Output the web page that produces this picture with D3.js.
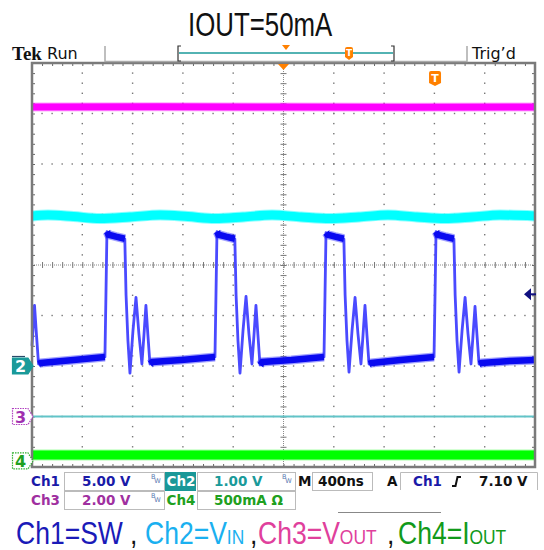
<!DOCTYPE html>
<html>
<head>
<meta charset="utf-8">
<script src="https://cdn.jsdelivr.net/npm/d3@7"></script>
<style>
body { margin: 0; background: #fff; }
svg { display: block; }
</style>
</head>
<body>
<div class="scope"></div>
<script>
// scope settings
const chNames = ["Ch1", "Ch2", "Ch3", "Ch4"];
const chPerDiv = [5, 1, 2, 0.5];          // V/div (A/div for Ch4)
const chGround = [-2, -2, -3, -3.88];     // ground marker, divs from centre
const timePerDiv = 400;                   // ns

// Ch1 = SW node (V)
const ch1Time = [0, 20, 36, 52, 70, 330, 580,
  588, 596, 608, 668, 738, 748, 763, 779, 803, 827, 850, 874, 890, 906, 922, 938, 958, 1188, 1455,
  1463, 1471, 1483, 1543, 1613, 1623, 1638, 1654, 1678, 1702, 1725, 1749, 1765, 1781, 1797, 1813, 1833, 2063, 2322,
  2330, 2338, 2350, 2410, 2480, 2490, 2505, 2521, 2545, 2569, 2592, 2616, 2632, 2648, 2664, 2680, 2700, 2930, 3197,
  3205, 3213, 3225, 3285, 3355, 3365, 3380, 3396, 3420, 3444, 3467, 3491, 3507, 3523, 3539, 3555, 3575, 3800, 4000];
const ch1Volt = [2.0, 6.0, 3.0, 0.2, 0.3, 0.6, 0.9,
  7.0, 13.3, 13.0, 12.8, 12.6, 7.0, 2.5, -0.7, 3.5, 6.8, 3.2, 0.2, 3.0, 6.0, 3.0, 0.2, 0.4, 0.6, 0.9,
  7.0, 13.3, 13.0, 12.8, 12.6, 7.0, 2.5, -0.7, 3.5, 6.9, 3.2, 0.2, 3.0, 6.0, 3.0, 0.1, 0.4, 0.6, 0.9,
  7.0, 13.2, 13.0, 12.8, 12.6, 7.0, 2.5, -0.6, 3.5, 6.8, 3.2, 0.2, 3.0, 6.0, 3.0, 0.2, 0.3, 0.6, 0.9,
  7.0, 13.3, 13.0, 12.8, 12.6, 7.0, 2.5, -0.6, 3.5, 6.8, 3.2, 0.2, 3.0, 5.9, 3.0, 0.2, 0.3, 0.5, 0.6];

// Ch2 = VIN (V)
const ch2Time = [0, 127, 330, 541, 780, 1018, 1240, 1455, 1680, 1909, 2140, 2370, 2600, 2831, 3060, 3284, 3500, 3722, 4000];
const ch2Volt = [2.97, 2.99, 2.96, 2.92, 2.95, 2.99, 2.96, 2.92, 2.95, 2.99, 2.95, 2.92, 2.95, 2.99, 2.95, 2.92, 2.95, 2.99, 2.97];

// Ch3 = VOUT (V)
const ch3Time = [0, 1000, 2000, 3000, 4000];
const ch3Volt = [12.26, 12.27, 12.26, 12.25, 12.26];

// Ch4 = IOUT (A)
const ch4Time = [0, 1000, 2000, 3000, 4000];
const ch4Amp = [0.06, 0.06, 0.06, 0.06, 0.06];

const trigTime = 3205, trigLevel = 7.10;

const legendMain = ["Ch1=SW", "Ch2=V", "Ch3=V", "Ch4=I"];
const legendSub = ["", "IN", "OUT", "OUT"];

const W = 544, H = 550;
const gx0 = 32, gx1 = 535, gy0 = 63, gy1 = 467;

const svg = d3.select(".scope").append("svg")
  .attr("width", W).attr("height", H);

const xDiv = d3.scaleLinear().domain([0, 10]).range([gx0, gx1]);
const yDiv = d3.scaleLinear().domain([-4, 4]).range([gy1, gy0]);
const xTime = d3.scaleLinear().domain([0, timePerDiv * 10]).range([gx0, gx1]);
const yCh = i => v => yDiv(chGround[i] + v / chPerDiv[i]);

// ---------- graticule ----------
const grat = svg.append("g");
const minor = d3.range(1, 50).map(k => k / 5);
const minorY = d3.range(1, 40).map(k => -4 + k / 5);

[1, 2, 3, 4, 6, 7, 8, 9].forEach(i => {
  grat.selectAll(null).data(minorY).enter().append("rect")
    .attr("x", xDiv(i) - 0.7).attr("y", d => yDiv(d) - 0.7)
    .attr("width", 1.4).attr("height", 1.4).attr("fill", "#777");
});
[-3, -2, -1, 1, 2, 3].forEach(j => {
  grat.selectAll(null).data(minor).enter().append("rect")
    .attr("x", d => xDiv(d) - 0.7).attr("y", yDiv(j) - 0.7)
    .attr("width", 1.4).attr("height", 1.4).attr("fill", "#777");
});

// centre cross
grat.append("line").attr("x1", gx0).attr("x2", gx1).attr("y1", yDiv(0)).attr("y2", yDiv(0))
  .attr("stroke", "#8a8a8a").attr("stroke-dasharray", "1,1");
grat.append("line").attr("x1", xDiv(5)).attr("x2", xDiv(5)).attr("y1", gy0).attr("y2", gy1)
  .attr("stroke", "#8a8a8a").attr("stroke-dasharray", "1,1");
grat.append("g").attr("transform", `translate(0,${yDiv(0) + 3})`)
  .call(d3.axisTop(xDiv).tickValues(minor).tickSize(6).tickFormat(""))
  .call(g => g.select(".domain").remove())
  .call(g => g.selectAll("line").attr("stroke", "#777"));
grat.append("g").attr("transform", `translate(${xDiv(5) + 3},0)`)
  .call(d3.axisLeft(yDiv).tickValues(minorY).tickSize(6).tickFormat(""))
  .call(g => g.select(".domain").remove())
  .call(g => g.selectAll("line").attr("stroke", "#777"));

// border ticks
grat.append("g").attr("transform", `translate(0,${gy0})`)
  .call(d3.axisBottom(xDiv).tickValues(minor).tickSize(3).tickFormat(""))
  .call(g => g.select(".domain").remove())
  .call(g => g.selectAll("line").attr("stroke", "#666"));
grat.append("g").attr("transform", `translate(0,${gy1})`)
  .call(d3.axisTop(xDiv).tickValues(minor).tickSize(3).tickFormat(""))
  .call(g => g.select(".domain").remove())
  .call(g => g.selectAll("line").attr("stroke", "#666"));
grat.append("g").attr("transform", `translate(${gx0},0)`)
  .call(d3.axisRight(yDiv).tickValues(minorY).tickSize(3).tickFormat(""))
  .call(g => g.select(".domain").remove())
  .call(g => g.selectAll("line").attr("stroke", "#666"));
grat.append("g").attr("transform", `translate(${gx1},0)`)
  .call(d3.axisLeft(yDiv).tickValues(minorY).tickSize(3).tickFormat(""))
  .call(g => g.select(".domain").remove())
  .call(g => g.selectAll("line").attr("stroke", "#666"));

// ---------- traces ----------
const traces = svg.append("g");
function band(times, vals, ch, color, width) {
  const pts = times.map((t, i) => [xTime(t), yCh(ch)(vals[i])]);
  const line = d3.line();
  traces.append("path").attr("d", line(pts)).attr("fill", "none")
    .attr("stroke", color).attr("stroke-width", width + 2).attr("opacity", 0.35);
  traces.append("path").attr("d", line(pts)).attr("fill", "none")
    .attr("stroke", color).attr("stroke-width", width);
}

// reference line at Ch3 ground
traces.append("line").attr("x1", gx0 + 1).attr("x2", gx1 - 1)
  .attr("y1", yCh(2)(0)).attr("y2", yCh(2)(0))
  .attr("stroke", "#62c4c8").attr("stroke-width", 2);

band(ch3Time, ch3Volt, 2, "#ff00ff", 7);
band(ch4Time, ch4Amp, 3, "#00ff00", 9);

const ch2Pts = ch2Time.map((t, i) => [xTime(t), yCh(1)(ch2Volt[i])]);
const smooth = d3.line().curve(d3.curveMonotoneX);
traces.append("path").attr("d", smooth(ch2Pts)).attr("fill", "none")
  .attr("stroke", "#00ffff").attr("stroke-width", 11).attr("opacity", 0.45);
traces.append("path").attr("d", smooth(ch2Pts)).attr("fill", "none")
  .attr("stroke", "#00ffff").attr("stroke-width", 9);

// Ch1: thin trace + thick noisy band on the flat parts
const ch1 = ch1Time.map((t, i) => ({ t: t, v: ch1Volt[i] }));
const ch1Line = d3.line().x(d => xTime(d.t)).y(d => yCh(0)(d.v));
const ch1Flat = d3.line().defined(d => d.v < 1.0 || d.v > 11)
  .x(d => xTime(d.t)).y(d => yCh(0)(d.v));
traces.append("path").attr("d", ch1Line(ch1)).attr("fill", "none")
  .attr("stroke", "#4a4aff").attr("stroke-width", 2.8).attr("stroke-linejoin", "round");
traces.append("path").attr("d", ch1Flat(ch1)).attr("fill", "none")
  .attr("stroke", "#3030ff").attr("stroke-width", 9).attr("opacity", 0.45);
traces.append("path").attr("d", ch1Flat(ch1)).attr("fill", "none")
  .attr("stroke", "#0a0af0").attr("stroke-width", 6.5);

// border
svg.append("rect").attr("x", gx0).attr("y", gy0)
  .attr("width", gx1 - gx0).attr("height", gy1 - gy0)
  .attr("fill", "none").attr("stroke", "#7a7a7a").attr("stroke-width", 2.5);

// ---------- markers ----------
function marker(y, label, fill, stroke, txt, dashed) {
  const g = svg.append("g");
  g.append("path")
    .attr("d", `M12.5,${y - 8}H28L33,${y}L28,${y + 8}H12.5Z`)
    .attr("fill", fill).attr("stroke", stroke).attr("stroke-width", 1.2)
    .attr("stroke-dasharray", dashed ? "1.5,1" : null);
  g.append("text").attr("x", 20.5).attr("y", y + 6).attr("text-anchor", "middle")
    .style("font", "bold 16px 'DejaVu Sans', sans-serif").attr("fill", txt).text(label);
}
svg.append("line").attr("x1", 12).attr("x2", 25).attr("y1", yCh(0)(0) - 9.5).attr("y2", yCh(0)(0) - 9.5)
  .attr("stroke", "#2a4a6a").attr("stroke-width", 1.2);
marker(yCh(1)(0), "2", "#1a9a9a", "#1a9a9a", "#fff", false);
marker(yCh(2)(0), "3", "#fff", "#b040c0", "#a030b0", true);
marker(yCh(3)(0), "4", "#fff", "#30b030", "#20a020", true);

// trigger level arrow (right)
const ty = yCh(0)(trigLevel);
svg.append("path").attr("d", `M524,${ty}L531,${ty - 6}L531,${ty + 6}Z`).attr("fill", "#101080");
svg.append("line").attr("x1", 530).attr("x2", 536).attr("y1", ty).attr("y2", ty)
  .attr("stroke", "#101080").attr("stroke-width", 2);

// trigger T in grid
function tMark(cx, top, w, h) {
  const g = svg.append("g");
  g.append("path")
    .attr("d", `M${cx - w / 2},${top + 2}Q${cx - w / 2},${top} ${cx - w / 2 + 2},${top}H${cx + w / 2 - 2}Q${cx + w / 2},${top} ${cx + w / 2},${top + 2}V${top + h - 3}L${cx},${top + h}L${cx - w / 2},${top + h - 3}Z`)
    .attr("fill", "#ff8000");
  g.append("text").attr("x", cx).attr("y", top + h - 4.5).attr("text-anchor", "middle")
    .style("font", `bold ${h - 4}px 'DejaVu Sans', sans-serif`).attr("fill", "#fff").text("T");
}
tMark(xTime(trigTime), 71, 12, 15);
svg.append("path").attr("d", `M${xDiv(5) - 5.5},${gy0 + 1}L${xDiv(5) + 5.5},${gy0 + 1}L${xDiv(5)},${gy0 + 7}Z`)
  .attr("fill", "#ff8000");

// ---------- header ----------
svg.append("text").attr("transform", "translate(188,36) scale(0.76,1)")
  .style("font", "34px 'Liberation Sans', Arial, sans-serif").attr("fill", "#111").text("IOUT=50mA");

svg.append("text").attr("x", 12).attr("y", 60)
  .style("font", "bold 19px 'Liberation Serif', serif").attr("fill", "#111").text("Tek");
svg.append("text").attr("x", 47).attr("y", 59)
  .style("font", "16px 'DejaVu Sans', sans-serif").attr("fill", "#111").text("Run");
svg.append("text").attr("x", 472).attr("y", 59)
  .style("font", "16px 'DejaVu Sans', sans-serif").attr("fill", "#111").text("Trig\u2019d");
svg.append("path").attr("d", "M105,46V61.5H467V46")
  .attr("fill", "none").attr("stroke", "#aaa").attr("stroke-width", 1.5);
svg.append("path").attr("d", "M181,46H178V61H181M391,46H394V61H391")
  .attr("fill", "none").attr("stroke", "#333").attr("stroke-width", 1.2);
svg.append("line").attr("x1", 179).attr("x2", 393).attr("y1", 53).attr("y2", 53)
  .attr("stroke", "#1a9a9a").attr("stroke-width", 1.5);
svg.append("path").attr("d", "M282,45H290L286,50Z").attr("fill", "#ff8000");
tMark(349, 47, 8, 13);

// ---------- readout ----------
const ro = svg.append("g").style("font", "bold 13.5px 'DejaVu Sans', sans-serif");
[[64, 472, 100], [197, 472, 98], [312, 472, 60], [64, 491, 100], [197, 491, 98]].forEach(b => {
  ro.append("rect").attr("x", b[0] + 0.5).attr("y", b[1] + 0.5).attr("width", b[2]).attr("height", 18)
    .attr("fill", "none").attr("stroke", "#bbb");
});
ro.append("path").attr("d", "M400.5,490V472.5H537.5V490").attr("fill", "none").attr("stroke", "#bbb");
ro.append("rect").attr("x", 165).attr("y", 472).attr("width", 31).attr("height", 19).attr("fill", "#1a9898");
function rtext(x, y, s, c) { ro.append("text").attr("x", x).attr("y", y).attr("fill", c).text(s); }
rtext(31, 486, chNames[0], "#1a1aa8");
rtext(82, 486, d3.format(".2f")(chPerDiv[0]) + " V", "#1a1aa8");
rtext(166.5, 486, chNames[1], "#fff");
rtext(214, 486, d3.format(".2f")(chPerDiv[1]) + " V", "#1a9a9a");
rtext(298, 486, "M", "#111");
rtext(318, 486, timePerDiv + "ns", "#111");
rtext(387, 486, "A", "#111");
rtext(413, 486, chNames[0], "#1a1aa8");
rtext(479, 486, d3.format(".2f")(trigLevel) + " V", "#111");
rtext(31, 505, chNames[2], "#a030a0");
rtext(82, 505, d3.format(".2f")(chPerDiv[2]) + " V", "#a030a0");
rtext(166.5, 505, chNames[3], "#20a020");
rtext(214, 505, "500mA \u03A9", "#20a020");
ro.append("path").attr("d", "M452,486H455.5L457.5,477H461").attr("fill", "none")
  .attr("stroke", "#111").attr("stroke-width", 2);
// bandwidth-limit glyph: a small B over W, one text each
[[151, 481], [282, 481], [151, 500]].forEach(p => {
  const bw = ro.append("text").attr("x", p[0]).attr("y", p[1] - 2)
    .style("font", "6.5px 'DejaVu Sans'").attr("fill", "#5a7ab0");
  bw.append("tspan").text("B");
  bw.append("tspan").attr("dx", -1).attr("dy", 4).text("W");
});
svg.append("line").attr("x1", 338).attr("x2", 441).attr("y1", 512.5).attr("y2", 512.5).attr("stroke", "#888");

// ---------- legend ----------
const legendX = [16, 145, 258, 398];
const legendColor = ["#1a1ab8", "#1ab0f0", "#e0409c", "#119a1a"];
const commaX = [130, 250, 387];
legendMain.forEach((s, i) => {
  const t = svg.append("text").attr("transform", `translate(${legendX[i]},544) scale(0.87,1)`)
    .style("font-family", "'Liberation Sans', Arial, sans-serif").attr("fill", legendColor[i]);
  t.append("tspan").style("font-size", "30.5px").text(s);
  if (legendSub[i]) t.append("tspan").style("font-size", "20px").text(legendSub[i]);
});
commaX.forEach(x => {
  svg.append("text").attr("transform", `translate(${x},544) scale(0.87,1)`)
    .style("font", "30.5px 'Liberation Sans', Arial, sans-serif").attr("fill", "#111").text(",");
});
</script>
</body>
</html>
